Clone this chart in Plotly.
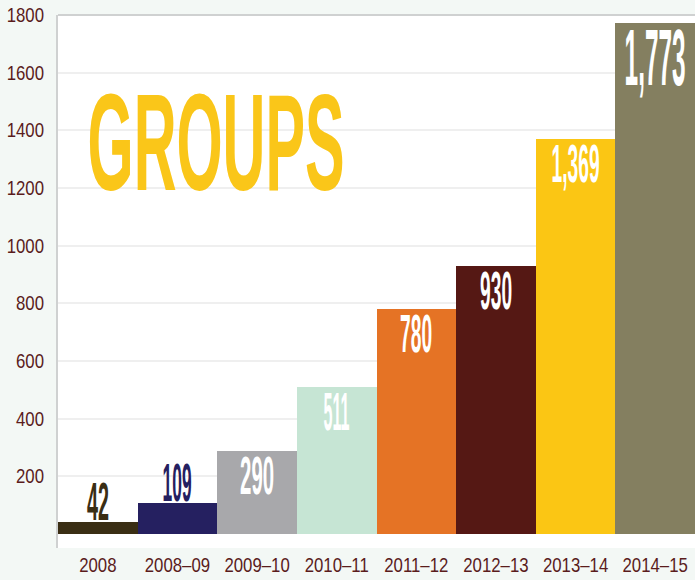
import json
import plotly.graph_objects as go

# ---- data ----
categories = ["2008", "2008–09", "2009–10", "2010–11", "2011–12", "2012–13", "2013–14", "2014–15"]
groups = [42, 109, 290, 511, 780, 930, 1369, 1773]
bar_colors = ["#3a2e14", "#252060", "#a8a8ab", "#c6e5d4", "#e57325", "#551814", "#fbc614", "#847f60"]
y_tickvals = [200, 400, 600, 800, 1000, 1200, 1400, 1600, 1800]
title_text = "GROUPS"

# ---- style ----
FONT = "Liberation Sans Narrow, Arial Narrow, Liberation Sans, sans-serif"
TICK_COLOR = "#5a1c1c"
BG = "#f3f8f5"

fig = go.Figure()
fig.add_trace(go.Bar(
    x=categories, y=groups, marker=dict(color=bar_colors, line=dict(width=0)),
    hoverinfo="x+y", showlegend=False,
))

annotations = []
targets = []
# title
annotations.append(dict(
    text=title_text, xref="paper", yref="paper", x=0.2488, y=0.762,
    xanchor="center", yanchor="middle", showarrow=False,
    font=dict(family=FONT, size=138, color="#fac619", weight="bold"),
))
targets.append(257)

label_widths = [22, 29, 34, 26, 32, 32, 48, 61]
for i, v in enumerate(groups):
    inside = v > 200
    big = v == max(groups)
    size = 80 if big else 54
    if inside:
        annotations.append(dict(
            text=f"{v:,}", x=i, y=v, xref="x", yref="y",
            xanchor="center", yanchor="top", yshift=8 if not big else 12, showarrow=False,
            font=dict(family=FONT, size=size, color="white", weight="bold"),
        ))
    else:
        annotations.append(dict(
            text=f"{v:,}", x=i, y=v, xref="x", yref="y",
            xanchor="center", yanchor="bottom", yshift=-11, showarrow=False,
            font=dict(family=FONT, size=size, color=bar_colors[i], weight="bold"),
        ))
    targets.append(label_widths[i])

fig.update_layout(
    width=695, height=580,
    margin=dict(l=58, r=0, t=15, b=32),
    paper_bgcolor=BG, plot_bgcolor="white",
    bargap=0,
    annotations=annotations,
    shapes=[dict(type="line", xref="paper", yref="paper", x0=0, x1=1, y0=1, y1=1,
                 line=dict(color="#cfd1d1", width=2))],
    xaxis=dict(
        type="category", range=[-0.5, len(categories) - 0.5], automargin=False,
        showgrid=False, zeroline=False, showline=False, tickangle=0,
        ticks="", ticklabelstandoff=3,
        tickfont=dict(family=FONT, size=20, color=TICK_COLOR),
    ),
    yaxis=dict(
        range=[-48, 1800], tickvals=y_tickvals, automargin=False,
        showgrid=True, gridcolor="#efefef", gridwidth=2,
        zeroline=False, showline=True, mirror=True, linecolor="#cfd1d1", linewidth=2,
        ticks="outside", ticklen=8, tickcolor="rgba(0,0,0,0)",
        tickfont=dict(family=FONT, size=20, color=TICK_COLOR),
    ),
)

post = """
document.body.style.margin = '0';
var gd = document.getElementById('{plot_id}');
var targets = %s;
var SUFFIX = / translate\\([^)]*\\) scale\\([^)]*\\) translate\\([^)]*\\)$/;
function squeeze(t, s, mode){
  var tr = (t.getAttribute('transform') || '').replace(SUFFIX, '');
  t.setAttribute('transform', tr);
  var b = t.getBBox();
  var ax = mode === 'right' ? b.x + b.width : b.x + b.width / 2;
  t.setAttribute('transform', tr + ' translate(' + ax + ',0) scale(' + s + ',1) translate(' + (-ax) + ',0)');
}
function fixText(){
  gd.querySelectorAll('.annotation').forEach(function(a){
    var i = +a.getAttribute('data-index');
    var t = a.querySelector('text.annotation-text');
    if(!t || targets[i] == null) return;
    t.style.transform = '';
    var w = t.getBBox().width;
    if(!w) return;
    var s = targets[i] / w;
    t.style.transformBox = 'fill-box';
    t.style.transformOrigin = 'center';
    t.style.transform = 'scaleX(' + s + ')';
  });
  gd.querySelectorAll('.xtick text').forEach(function(t){ squeeze(t, 0.84, 'center'); });
  gd.querySelectorAll('.ytick text').forEach(function(t){ squeeze(t, 0.84, 'right'); });
}
fixText();
gd.on('plotly_afterplot', fixText);
""" % json.dumps(targets)

fig.write_html("out.html", post_script=post, config={"displayModeBar": False})
